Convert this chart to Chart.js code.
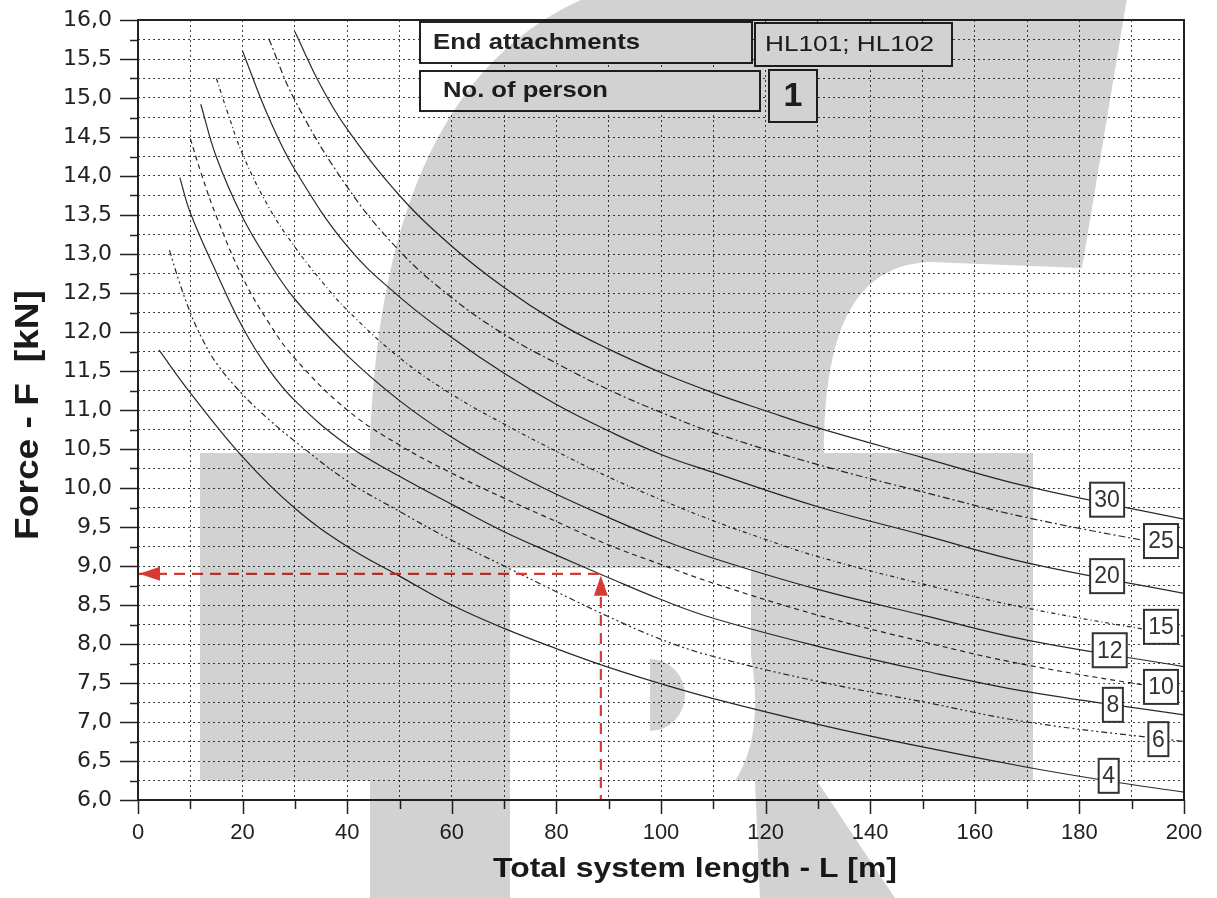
<!DOCTYPE html>
<html>
<head>
<meta charset="utf-8">
<script src="https://cdn.jsdelivr.net/npm/chart.js@4.4.1/dist/chart.umd.min.js"></script>
<style>
  html, body { margin: 0; padding: 0; background: #fff; }
  #wrap { width: 1217px; height: 898px; position: relative; }
</style>
</head>
<body>
<div id="wrap"><canvas id="forceChart"></canvas></div>
<script>
// ==========================================
// 1. DATA
// ==========================================

// total system length L [m] / force F [kN] for each curve
const curve4L = [4, 10, 20, 30, 40, 50, 60, 70, 80, 90, 100, 110, 130, 150, 170, 185, 200];
const curve4F = [11.77, 11.22, 10.40, 9.74, 9.25, 8.87, 8.50, 8.20, 7.94, 7.70, 7.49, 7.30, 6.97, 6.68, 6.42, 6.25, 6.10];

const curve6L = [6, 8, 10, 12, 15, 20, 25, 30, 40, 50, 60, 70, 80, 90, 100, 110, 130, 150, 170, 200];
const curve6F = [13.05, 12.62, 12.25, 11.95, 11.60, 11.20, 10.88, 10.60, 10.09, 9.70, 9.33, 9.00, 8.67, 8.35, 8.06, 7.84, 7.52, 7.26, 7.00, 6.75];

const curve8L = [8, 10, 15, 20, 25, 30, 40, 50, 60, 70, 80, 90, 100, 110, 130, 150, 170, 200];
const curve8F = [13.98, 13.53, 12.76, 12.06, 11.52, 11.12, 10.55, 10.15, 9.79, 9.44, 9.14, 8.85, 8.57, 8.33, 7.97, 7.66, 7.39, 7.09];

const curve10L = [10, 12, 15, 20, 25, 30, 40, 50, 60, 70, 80, 90, 100, 110, 130, 150, 170, 200];
const curve10F = [14.48, 14.05, 13.48, 12.70, 12.12, 11.66, 11.00, 10.55, 10.19, 9.87, 9.57, 9.27, 9.02, 8.78, 8.37, 8.03, 7.73, 7.39];

const curve12L = [12, 15, 20, 25, 30, 40, 50, 60, 70, 80, 90, 100, 110, 130, 150, 170, 200];
const curve12F = [14.92, 14.24, 13.47, 12.90, 12.42, 11.70, 11.12, 10.65, 10.26, 9.92, 9.62, 9.34, 9.10, 8.70, 8.37, 8.05, 7.71];

const curve15L = [15, 17, 20, 25, 30, 35, 40, 50, 60, 70, 80, 90, 100, 110, 120, 130, 150, 170, 200];
const curve15F = [15.25, 14.84, 14.28, 13.60, 13.09, 12.66, 12.28, 11.67, 11.20, 10.82, 10.47, 10.14, 9.85, 9.58, 9.34, 9.12, 8.77, 8.46, 8.10];

const curve20L = [20, 25, 30, 40, 50, 60, 70, 80, 90, 100, 110, 130, 150, 170, 200];
const curve20F = [15.60, 14.75, 14.08, 13.10, 12.45, 11.93, 11.47, 11.07, 10.73, 10.43, 10.20, 9.76, 9.40, 9.04, 8.65];

const curve25L = [25, 30, 40, 50, 60, 70, 80, 90, 100, 110, 130, 150, 170, 200];
const curve25F = [15.76, 14.97, 13.86, 13.04, 12.44, 11.97, 11.60, 11.26, 10.97, 10.71, 10.30, 9.95, 9.62, 9.23];

const curve30L = [30, 35, 40, 50, 60, 70, 80, 90, 100, 110, 120, 130, 150, 170, 200];
const curve30F = [15.85, 15.15, 14.60, 13.75, 13.10, 12.57, 12.13, 11.78, 11.48, 11.22, 10.99, 10.77, 10.39, 10.02, 9.60];

// curve tags at the right side
const labelText = ['30', '25', '20', '15', '12', '10', '8', '6', '4'];
const labelL = [185.3, 195.6, 185.3, 195.6, 185.8, 195.6, 186.4, 195.1, 185.6];
const labelF = [9.85, 9.32, 8.87, 8.22, 7.92, 7.45, 7.22, 6.78, 6.31];

// red example reading
const guideL = [0, 88.5, 88.5];
const guideF = [8.9, 8.9, 6.0];

// axes
const xMin = 0, xMax = 200, xStep = 10;
const yMin = 6, yMax = 16, yStep = 0.25;

// ==========================================
// 2. HELPERS
// ==========================================

function toPoints(ls, fs) {
    return ls.map((l, i) => ({ x: l, y: fs[i] }));
}

function curve(ls, fs, dash) {
    return {
        data: toPoints(ls, fs),
        showLine: true,
        borderColor: '#2a2a2a',
        borderWidth: 1.2,
        borderDash: dash,
        pointRadius: 0,
        fill: false,
        tension: 0.4,
        order: 1
    };
}

// draws text squeezed/stretched to a target width
function fitText(ctx, text, x, y, font, width, align) {
    ctx.font = font;
    const w = ctx.measureText(text).width;
    const k = width ? width / w : 1;
    ctx.save();
    ctx.translate(x, y);
    ctx.scale(k, 1);
    ctx.textAlign = align || 'left';
    ctx.textBaseline = 'middle';
    ctx.fillText(text, 0, 0);
    ctx.restore();
}

// the grey logo that sits over the whole picture
function buildWatermark(w, h) {
    const c = document.createElement('canvas');
    c.width = w;
    c.height = h;
    const g = c.getContext('2d');
    g.fillStyle = 'rgb(210,210,210)';

    // stem + hook
    g.beginPath();
    g.moveTo(370, h);
    g.lineTo(370, 440);
    g.quadraticCurveTo(385, 40, 640, -20);
    g.lineTo(1130, -20);
    g.lineTo(1082, 268);
    g.lineTo(930, 262);
    g.bezierCurveTo(860, 265, 824, 320, 824, 453);
    g.lineTo(510, 453);
    g.lineTo(510, h);
    g.closePath();
    g.fill();

    // cross bar
    g.fillRect(200, 453, 833, 328);

    // lower right piece
    g.beginPath();
    g.moveTo(755, 781);
    g.lineTo(817, 781);
    g.lineTo(895, h);
    g.lineTo(760, h);
    g.closePath();
    g.fill();

    // white cut-out
    g.globalCompositeOperation = 'destination-out';
    g.beginPath();
    g.moveTo(510, 568);
    g.lineTo(751, 568);
    g.lineTo(751, 655);
    g.bezierCurveTo(758, 700, 758, 745, 735, 781);
    g.lineTo(510, 781);
    g.closePath();
    g.fill();
    g.globalCompositeOperation = 'source-over';

    // small blob inside the cut-out
    g.beginPath();
    g.ellipse(650, 695, 35, 36, 0, -Math.PI / 2, Math.PI / 2);
    g.closePath();
    g.fill();
    return c;
}

// ==========================================
// 3. PLUGIN (frame, ticks, tags, boxes, logo)
// ==========================================

const decorPlugin = {
    id: 'decor',
    beforeDraw(chart) {
        const ctx = chart.ctx;
        ctx.save();
        ctx.fillStyle = '#fff';
        ctx.fillRect(0, 0, chart.width, chart.height);
        ctx.restore();
    },
    afterDatasetsDraw(chart) {
        const { ctx, scales: { x, y } } = chart;

        // arrow heads of the red reading
        const gx = x.getPixelForValue(guideL[1]);
        const gy = y.getPixelForValue(guideF[0]);
        const ax = x.getPixelForValue(guideL[0]);
        ctx.save();
        ctx.fillStyle = '#d63a34';
        ctx.beginPath();
        ctx.moveTo(ax + 1, gy);
        ctx.lineTo(ax + 22, gy - 7);
        ctx.lineTo(ax + 22, gy + 7);
        ctx.closePath();
        ctx.fill();
        ctx.beginPath();
        ctx.moveTo(gx, gy + 2);
        ctx.lineTo(gx - 7, gy + 22);
        ctx.lineTo(gx + 7, gy + 22);
        ctx.closePath();
        ctx.fill();
        ctx.restore();

        // curve tags
        ctx.save();
        ctx.font = '23px "Liberation Sans", Arial, sans-serif';
        ctx.textAlign = 'center';
        ctx.textBaseline = 'middle';
        labelText.forEach((t, i) => {
            const cx = x.getPixelForValue(labelL[i]);
            const cy = y.getPixelForValue(labelF[i]);
            const bw = t.length > 1 ? 34 : 20;
            const bh = 34;
            ctx.fillStyle = '#fff';
            ctx.fillRect(cx - bw / 2, cy - bh / 2, bw, bh);
            ctx.strokeStyle = '#333';
            ctx.lineWidth = 2;
            ctx.strokeRect(cx - bw / 2, cy - bh / 2, bw, bh);
            ctx.fillStyle = '#333';
            ctx.fillText(t, cx, cy + 1);
        });
        ctx.restore();
    },
    afterDraw(chart) {
        const { ctx, chartArea: a, scales: { x, y } } = chart;
        ctx.save();

        // tick marks
        ctx.strokeStyle = '#222';
        ctx.lineWidth = 1.5;
        ctx.beginPath();
        const nY = Math.round((yMax - yMin) / yStep);
        for (let i = 0; i <= nY; i++) {
            const py = Math.round(y.getPixelForValue(yMin + i * yStep)) + 0.5;
            const len = i % 2 === 0 ? 18 : 8;
            ctx.moveTo(a.left - len, py);
            ctx.lineTo(a.left, py);
        }
        const nX = Math.round((xMax - xMin) / xStep);
        for (let i = 0; i <= nX; i++) {
            const px = Math.round(x.getPixelForValue(xMin + i * xStep)) + 0.5;
            const len = i % 2 === 0 ? 14 : 9;
            ctx.moveTo(px, a.bottom);
            ctx.lineTo(px, a.bottom + len);
        }
        ctx.stroke();

        // frame
        ctx.lineWidth = 2;
        ctx.strokeRect(a.left, a.top, a.right - a.left, a.bottom - a.top);

        // info boxes at the top
        const boxes = [
            { x: 420, y: 22, w: 332, h: 41 },
            { x: 755, y: 23, w: 197, h: 43 },
            { x: 420, y: 71, w: 340, h: 40 },
            { x: 769, y: 70, w: 48, h: 52 }
        ];
        boxes.forEach(b => {
            ctx.fillStyle = '#fff';
            ctx.fillRect(b.x, b.y, b.w, b.h);
            ctx.strokeStyle = '#222';
            ctx.lineWidth = 2;
            ctx.strokeRect(b.x, b.y, b.w, b.h);
        });
        ctx.fillStyle = '#222';
        fitText(ctx, 'End attachments', 433, 43, 'bold 22px "Liberation Sans", Arial, sans-serif', 207);
        fitText(ctx, 'HL101; HL102', 765, 45, '22px "Liberation Sans", Arial, sans-serif', 169);
        fitText(ctx, 'No. of person', 443, 91, 'bold 22px "Liberation Sans", Arial, sans-serif', 165);
        fitText(ctx, '1', 793, 97, 'bold 34px "Liberation Sans", Arial, sans-serif', 0, 'center');

        // axis titles
        ctx.fillStyle = '#1a1a1a';
        fitText(ctx, 'Total system length - L [m]', 695, 870, 'bold 27px "Liberation Sans", Arial, sans-serif', 404, 'center');
        ctx.save();
        ctx.translate(29, 415);
        ctx.rotate(-Math.PI / 2);
        fitText(ctx, 'Force - F  [kN]', 0, 0, 'bold 33px "Liberation Sans", Arial, sans-serif', 250, 'center');
        ctx.restore();

        // grey logo laid over everything
        ctx.globalCompositeOperation = 'multiply';
        ctx.drawImage(buildWatermark(chart.width, chart.height), 0, 0);
        ctx.restore();
    }
};

// ==========================================
// 4. CHART
// ==========================================

document.addEventListener('DOMContentLoaded', () => {
    renderChart();
});

function renderChart() {
    const canvas = document.getElementById('forceChart');
    if (!canvas) return;

    Chart.defaults.font.family = '"Liberation Sans", Arial, sans-serif';

    const guide = {
        data: toPoints(guideL, guideF),
        showLine: true,
        borderColor: '#d63a34',
        borderWidth: 2.2,
        borderDash: [11, 7],
        pointRadius: 0,
        fill: false,
        tension: 0,
        order: 0
    };

    new Chart(canvas.getContext('2d'), {
        type: 'scatter',
        data: {
            datasets: [
                guide,
                curve(curve4L, curve4F, []),
                curve(curve6L, curve6F, [6, 3, 2, 3, 2, 3]),
                curve(curve8L, curve8F, []),
                curve(curve10L, curve10F, [5, 4]),
                curve(curve12L, curve12F, []),
                curve(curve15L, curve15F, [4, 3, 1, 3]),
                curve(curve20L, curve20F, []),
                curve(curve25L, curve25F, [7, 3, 2, 3]),
                curve(curve30L, curve30F, [])
            ]
        },
        options: {
            responsive: true,
            maintainAspectRatio: false,
            animation: false,
            layout: { padding: { top: 20, right: 33, bottom: 0, left: 0 } },
            plugins: {
                legend: { display: false },
                tooltip: { enabled: false }
            },
            scales: {
                x: {
                    type: 'linear',
                    min: xMin,
                    max: xMax,
                    afterFit: s => { s.height = 98; s.paddingLeft = 0; s.paddingRight = 0; },
                    border: { display: false, dash: [2, 3] },
                    grid: { color: 'rgba(0,0,0,0.75)', lineWidth: 1, drawTicks: false },
                    ticks: {
                        stepSize: xStep,
                        autoSkip: false,
                        maxRotation: 0,
                        padding: 20,
                        color: '#222',
                        font: { size: 22 },
                        callback: v => (v % 20 === 0 ? String(v) : '')
                    }
                },
                y: {
                    type: 'linear',
                    min: yMin,
                    max: yMax,
                    afterFit: s => { s.width = 138; s.paddingTop = 0; s.paddingBottom = 0; },
                    border: { display: false, dash: [2, 3] },
                    grid: { color: 'rgba(0,0,0,0.75)', lineWidth: 1, drawTicks: false },
                    ticks: {
                        stepSize: yStep,
                        autoSkip: false,
                        padding: 26,
                        color: '#222',
                        font: { family: '"DejaVu Sans", sans-serif', size: 22 },
                        callback: v => (Math.abs(v * 2 - Math.round(v * 2)) < 1e-6 ? v.toFixed(1).replace('.', ',') : '')
                    }
                }
            }
        },
        plugins: [decorPlugin]
    });
}
</script>
</body>
</html>
